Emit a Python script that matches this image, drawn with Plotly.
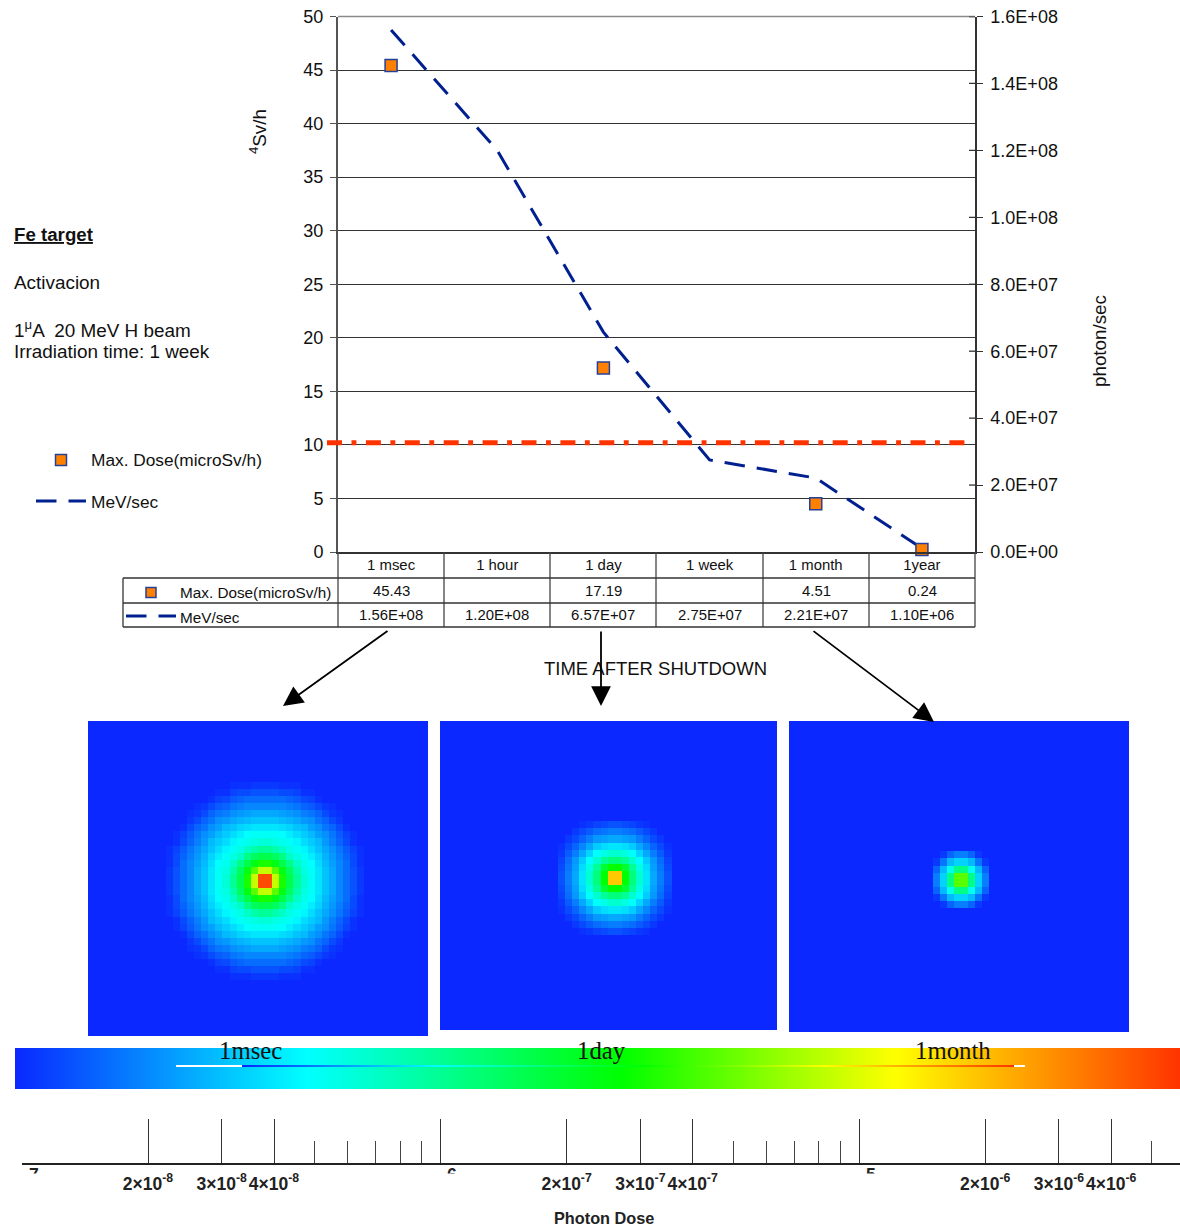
import numpy as np
import plotly.graph_objects as go

W, H = 1180, 1226
SANS = "Liberation Sans"
SERIF = "Liberation Serif"

# ---------- data ----------
time_labels = ["1 msec", "1 hour", "1 day", "1 week", "1 month", "1year"]
max_dose = [45.43, None, 17.19, None, 4.51, 0.24]
mev_sec = [1.56e8, 1.20e8, 6.57e7, 2.75e7, 2.21e7, 1.10e6]
dose_limit = 10.2

dose_ticks = [0, 5, 10, 15, 20, 25, 30, 35, 40, 45, 50]
mev_ticks = [0, 2e7, 4e7, 6e7, 8e7, 1e8, 1.2e8, 1.4e8, 1.6e8]
mev_tick_text = ["0.0E+00", "2.0E+07", "4.0E+07", "6.0E+07", "8.0E+07",
                 "1.0E+08", "1.2E+08", "1.4E+08", "1.6E+08"]

# one quadrant of each dose map, colour level in percent, centre first
map_1msec = [
    [97, 70, 54, 44, 36, 29, 26, 22, 18, 15, 11, 8, 5, 2],
    [70, 60, 50, 42, 34, 28, 26, 22, 18, 15, 11, 8, 5, 2],
    [54, 50, 44, 38, 31, 27, 25, 21, 17, 14, 11, 8, 4, 1],
    [44, 42, 38, 31, 28, 26, 23, 20, 16, 13, 10, 7, 4, 1],
    [36, 34, 31, 28, 26, 24, 21, 18, 15, 12, 9, 6, 3, 1],
    [29, 28, 27, 26, 24, 21, 19, 17, 13, 10, 7, 4, 1, 0],
    [26, 26, 25, 23, 21, 19, 17, 14, 12, 9, 6, 3, 1, 0],
    [22, 22, 21, 20, 18, 17, 14, 12, 9, 7, 4, 1, 0, 0],
    [18, 18, 17, 16, 15, 13, 12, 9, 7, 4, 2, 0, 0, 0],
    [15, 15, 14, 13, 12, 10, 9, 7, 4, 2, 1, 0, 0, 0],
    [11, 11, 11, 10, 9, 7, 6, 4, 2, 1, 0, 0, 0, 0],
    [8, 8, 8, 7, 6, 4, 3, 1, 0, 0, 0, 0, 0, 0],
    [5, 5, 4, 4, 3, 1, 1, 0, 0, 0, 0, 0, 0, 0],
    [2, 2, 1, 1, 1, 0, 0, 0, 0, 0, 0, 0, 0, 0],
]
map_1day = [
    [82, 52, 39, 30, 22, 15, 10, 5],
    [52, 47, 36, 28, 21, 14, 9, 4],
    [39, 36, 30, 25, 19, 13, 8, 3],
    [30, 28, 25, 20, 15, 10, 6, 2],
    [22, 21, 19, 15, 11, 7, 4, 1],
    [15, 14, 13, 10, 7, 4, 2, 0],
    [10, 9, 8, 6, 4, 2, 0, 0],
    [5, 4, 3, 2, 1, 0, 0, 0],
]
map_1month = [
    [60, 38, 20, 10],
    [38, 27, 17, 7],
    [20, 17, 9, 2],
    [10, 7, 2, 0],
]
map_names = ["1msec", "1day", "1month"]

scale_levels = [0, 5, 10, 15, 20, 25, 30, 35, 40, 45, 50, 55, 60, 65, 70, 75, 80, 85, 90, 95, 100]

ruler_major = [1e-8, 2e-8, 3e-8, 4e-8, 1e-7, 2e-7, 3e-7, 4e-7, 1e-6, 2e-6, 3e-6, 4e-6]
ruler_major_text = ["", "2×10<sup>-8</sup>", "3×10<sup>-8</sup>", "4×10<sup>-8</sup>",
                    "", "2×10<sup>-7</sup>", "3×10<sup>-7</sup>", "4×10<sup>-7</sup>",
                    "", "2×10<sup>-6</sup>", "3×10<sup>-6</sup>", "4×10<sup>-6</sup>"]
ruler_minor = [5e-8, 6e-8, 7e-8, 8e-8, 9e-8, 5e-7, 6e-7, 7e-7, 8e-7, 9e-7, 5e-6]

# ---------- helpers ----------
def px(x):
    return x / W

def py(y):
    return 1 - y / H

NAVY = "#00208F"
ORANGE = "#FF8000"
MARK_EDGE = "#24409A"
RED = "#FF3300"
INK = "#111111"
RULE = "#555555"
COLORS = [[0, "#0A28FF"], [0.25, "#00FFFF"], [0.52, "#00FF00"], [0.755, "#FFFF00"], [1, RED]]
LINE_DASH = "20.5px,12px"

annotations, shapes = [], []

def note(x, y, text, size=18, anchor="left", color=INK, family=SANS, angle=0, **font_extra):
    annotations.append(dict(
        x=px(x), y=py(y), xref="paper", yref="paper", text=text, showarrow=False,
        xanchor=anchor, yanchor="middle", textangle=angle,
        font=dict(family=family, size=size, color=color, **font_extra),
        borderpad=0, align="left"))

def rule(x0, y0, x1, y1, color=RULE, width=1.5, dash=None):
    line = dict(color=color, width=width)
    if dash:
        line["dash"] = dash
    shapes.append(dict(type="line", xref="paper", yref="paper", x0=px(x0), y0=py(y0),
                       x1=px(x1), y1=py(y1), line=line, layer="above"))

def arrow(x0, y0, x1, y1):
    annotations.append(dict(
        x=px(x1), y=py(y1), xref="paper", yref="paper",
        ax=x0 - x1, ay=y0 - y1, axref="pixel", ayref="pixel", text="",
        showarrow=True, arrowhead=2, arrowsize=2.2, arrowwidth=1.8, arrowcolor="#000000"))

fig = go.Figure()

# ---------- main chart ----------
fig.add_trace(go.Scatter(
    x=time_labels, y=mev_sec, name="MeV/sec", mode="lines", xaxis="x", yaxis="y",
    line=dict(color=NAVY, width=3, dash=LINE_DASH)))
fig.add_trace(go.Scatter(
    x=time_labels, y=max_dose, name="Max. Dose(microSv/h)", mode="markers", xaxis="x", yaxis="y2",
    marker=dict(symbol="square", size=12, color=ORANGE, line=dict(color=MARK_EDGE, width=1.5)),
    cliponaxis=False))

shapes.append(dict(type="line", xref="paper", yref="y2", x0=px(327), x1=px(964.5),
                   y0=dose_limit, y1=dose_limit, layer="above",
                   line=dict(color=RED, width=5, dash="15px,9.5px,4.9px,9.5px")))

rule(338, 16.5, 975, 16.5, color="#8A8A8A", width=1.5)
# right-hand ticks cross the axis line
for v in mev_ticks[1:]:
    shapes.append(dict(type="line", xref="paper", yref="y", x0=px(969), x1=px(975), y0=v, y1=v,
                       layer="above", line=dict(color="#333333", width=1.3)))

# ---------- dose maps ----------
def add_map(quadrant, name, idx, box, centre, cell=7.1, pad=40):
    x0, y0, x1, y1 = box
    cx, cy = centre
    q = np.array(quadrant, dtype=float)
    top = np.hstack([q[:, ::-1], q])
    full = np.vstack([top[::-1, :], top])
    z = np.pad(full, pad - q.shape[0])
    coords = np.arange(-pad, pad) + 0.5
    fig.add_trace(go.Heatmap(
        z=z, x=coords, y=coords, zmin=0, zmax=100, colorscale=COLORS, showscale=False,
        name=name, xaxis=f"x{idx}", yaxis=f"y{idx}", hoverinfo="skip"))
    return dict(
        x=dict(domain=[px(x0), px(x1)], range=[(x0 - cx) / cell, (x1 - cx) / cell],
               visible=False, anchor=f"y{idx}", automargin=False),
        y=dict(domain=[py(y1), py(y0)], range=[(cy - y1) / cell, (cy - y0) / cell],
               visible=False, anchor=f"x{idx}", automargin=False),
    )

axes = {}
for name, quad, idx, box, centre in [
    (map_names[0], map_1msec, 3, (88, 721, 428, 1036), (265, 881)),
    (map_names[1], map_1day, 4, (440, 721, 777, 1030), (614.7, 878)),
    (map_names[2], map_1month, 5, (789, 721, 1129, 1032), (961, 879.7)),
]:
    a = add_map(quad, name, idx, box, centre)
    axes[f"xaxis{idx}"] = a["x"]
    axes[f"yaxis{idx}"] = a["y"]

# ---------- colour bar and its thin twin ----------
def add_scale(idx, x0, x1, y0, y1):
    pos = list(range(len(scale_levels)))
    fig.add_trace(go.Heatmap(
        z=[scale_levels, scale_levels], x=pos, y=[0, 1], zmin=0, zmax=100, colorscale=COLORS,
        showscale=False, zsmooth="best", xaxis=f"x{idx}", yaxis=f"y{idx}", hoverinfo="skip"))
    axes[f"xaxis{idx}"] = dict(domain=[px(x0), px(x1)], range=[0, pos[-1]], visible=False,
                               anchor=f"y{idx}", automargin=False)
    axes[f"yaxis{idx}"] = dict(domain=[py(y1), py(y0)], range=[0, 1], visible=False,
                               anchor=f"x{idx}", automargin=False)

add_scale(6, 15, 1180, 1048, 1089)
add_scale(7, 242, 1014, 1065, 1067)
rule(176, 1066, 242, 1066, color="#FFFFFF", width=2)
rule(1014, 1066, 1025, 1066, color="#FFFFFF", width=2)

# ---------- log ruler ----------
fig.add_trace(go.Scatter(x=ruler_major, y=[0] * len(ruler_major), mode="markers", xaxis="x8", yaxis="y8",
                         marker=dict(opacity=0), hoverinfo="skip"))
axes["xaxis8"] = dict(
    type="log", domain=[px(22), 1], range=[-8, -8 + (1180 - 22) / 418.6], anchor="y8", automargin=False,
    showgrid=False, showline=True, linecolor="#222222", linewidth=1.5, zeroline=False,
    tickmode="array", tickvals=ruler_major, ticktext=ruler_major_text, tickangle=0,
    ticks="inside", ticklen=44, tickwidth=1.3, tickcolor="#333333",
    ticklabelstandoff=4,
    tickfont=dict(family=SANS, size=17.5, color="#222222", weight="bold"),
    minor=dict(tickmode="array", tickvals=ruler_minor, ticks="inside", ticklen=22,
               tickwidth=1.3, tickcolor="#444444", showgrid=False),
)
axes["yaxis8"] = dict(domain=[py(1163), py(1119)], range=[0, 1], visible=False, anchor="x8", automargin=False)

for x_pos, digit in [(34, "7"), (452, "6"), (871, "5")]:
    note(x_pos, 1175, f"<b>{digit}</b>", size=17.5, anchor="center", color="#222222")
    annotations.append(dict(x=px(x_pos), y=py(1173), xref="paper", yref="paper", text=" ", showarrow=False,
                            xanchor="center", yanchor="top", width=18, height=16, bgcolor="#FFFFFF",
                            borderpad=0, font=dict(size=12)))

note(604, 1218, "<b>Photon Dose</b>", size=16.3, anchor="center", color="#222222")

# ---------- data table ----------
col_edges = [338, 444, 550, 656, 763, 869, 975]
row_y = [578, 603, 627]
for x in col_edges:
    rule(x, 552, x, 627, color="#444444", width=1.3)
for y in row_y:
    rule(123, y, 975, y, color="#333333", width=1.3)
rule(123, 578, 123, 627, color="#333333", width=1.3)

for i, t in enumerate(time_labels):
    centre = (col_edges[i] + col_edges[i + 1]) / 2
    if max_dose[i] is not None:
        note(centre, 591, f"{max_dose[i]:.2f}", size=14.9, anchor="center")
    note(centre, 615, f"{mev_sec[i]:.2E}", size=14.9, anchor="center")

# legend keys (table and left)
def square_key(cx, cy, half):
    shapes.append(dict(type="rect", xref="paper", yref="paper",
                       x0=px(cx - half), x1=px(cx + half), y0=py(cy - half), y1=py(cy + half),
                       fillcolor=ORANGE, line=dict(color=MARK_EDGE, width=1.5), layer="above"))

square_key(151, 592.5, 5)
rule(126, 616, 176, 616, color=NAVY, width=3, dash=LINE_DASH)
note(179, 592.5, "Max. Dose(microSv/h)", size=15.3)
note(179, 617, "MeV/sec", size=15.3)

square_key(61, 460, 5.5)
rule(36, 501, 86, 501, color=NAVY, width=3, dash=LINE_DASH)
note(90, 460, "Max. Dose(microSv/h)", size=17.3)
note(90, 502, "MeV/sec", size=17.3)

# ---------- free text ----------
note(13, 235, "<b>Fe target</b>", size=18.7, lineposition="under")
note(13, 282, "Activacion", size=18.9)
note(13, 328.5, "1<sup>μ</sup>A  20 MeV H beam", size=18.9)
note(13, 352, "Irradiation time: 1 week", size=18.9)
note(258, 132, "<sup>4</sup>Sv/h", size=18.8, anchor="center", angle=-90)
note(1099, 341, "photon/sec", size=18.8, anchor="center", angle=-90)
note(655.5, 668, "TIME AFTER SHUTDOWN", size=18.5, anchor="center")

for text, x in zip(map_names, [250.5, 602, 953]):
    note(x, 1050, text, size=24.8, anchor="center", family=SERIF)

arrow(389, 630, 283, 706)
arrow(601, 630, 601, 706)
arrow(812, 630, 934, 722)

# ---------- layout ----------
fig.update_layout(
    width=W, height=H, margin=dict(l=0, r=0, t=0, b=0), autosize=False,
    paper_bgcolor="#FFFFFF", plot_bgcolor="rgba(0,0,0,0)", showlegend=False,
    font=dict(family=SANS, size=18, color=INK),
    annotations=annotations, shapes=shapes,
    xaxis=dict(
        domain=[px(338), px(975)], type="category", categoryorder="array", categoryarray=time_labels,
        range=[-0.5, 5.5], anchor="y", automargin=False, showgrid=False, showline=True,
        linecolor="#333333", linewidth=1.5,
        ticks="", tickangle=0, tickfont=dict(family=SANS, size=14.9, color=INK), ticklabelstandoff=-2,
    ),
    yaxis=dict(
        domain=[py(552), py(16.5)], range=[0, 1.6e8], side="right", anchor="x", automargin=False, showgrid=False,
        zeroline=False, showline=True, linecolor="#333333", linewidth=1.5,
        tickmode="array", tickvals=mev_ticks, ticktext=mev_tick_text,
        ticks="outside", ticklen=6, tickcolor="#333333", tickwidth=1.3, ticklabelstandoff=4,
        tickfont=dict(family=SANS, size=18, color=INK),
    ),
    yaxis2=dict(
        domain=[py(552), py(16.5)], range=[0, 50], side="left", overlaying="y", anchor="x", automargin=False,
        showgrid=True, gridcolor="#333333", gridwidth=1, zeroline=False,
        showline=True, linecolor=RULE, linewidth=2,
        tickmode="array", tickvals=dose_ticks,
        ticks="outside", ticklen=6, tickcolor=RULE, tickwidth=1.3, ticklabelstandoff=3,
        tickfont=dict(family=SANS, size=18, color=INK),
    ),
    **axes,
)

fig.write_html("out.html", config={"displayModeBar": False}, post_script="document.body.style.margin='0';")
